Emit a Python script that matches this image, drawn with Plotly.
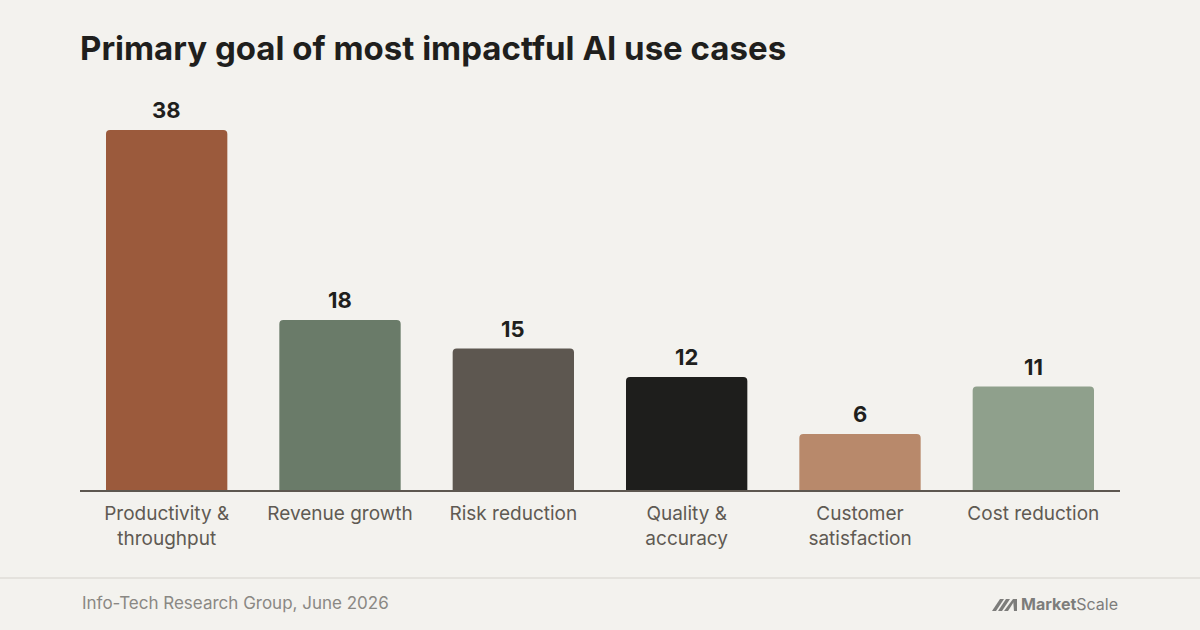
import plotly.graph_objects as go

categories = ["Productivity &<br>throughput", "Revenue growth", "Risk reduction",
              "Quality &<br>accuracy", "Customer<br>satisfaction", "Cost reduction"]
values = [38, 18, 15, 12, 6, 11]
colors = ["#9B5A3C", "#6A7B69", "#5D5750", "#1E1E1C", "#B8896B", "#8FA08C"]

W, H = 1200, 630
L, R, T, B = 80, 80, 90, 139
PW, PH = W - L - R, H - T - B

def px(x):
    return (x - L) / PW

def py(y):
    return (H - B - y) / PH

fig = go.Figure()
fig.add_trace(go.Bar(
    x=categories, y=values, marker=dict(color=colors, line=dict(width=0)),
    hoverinfo="skip", showlegend=False,
))

for c, v in zip(categories, values):
    fig.add_annotation(x=c, y=v, text=f"<b>{v}</b>", showarrow=False,
                       yanchor="bottom", yshift=5,
                       font=dict(family="Inter", size=22, color="#1F1F1D"))

shapes = [
    dict(type="line", xref="paper", yref="paper", x0=0, x1=1, y0=0, y1=0,
         line=dict(color="#5D5750", width=2), layer="above"),
    dict(type="line", xref="paper", yref="paper", x0=px(0), x1=px(W),
         y0=py(578), y1=py(578), line=dict(color="#E4E2DD", width=2)),
]

# logo icon: slanted strokes
def poly(pts):
    d = "M " + " L ".join(f"{px(a):.5f},{py(b):.5f}" for a, b in pts) + " Z"
    return dict(type="path", xref="paper", yref="paper", path=d,
                fillcolor="#7D7D7B", line=dict(width=0))

shapes.append(poly([(992, 611), (996, 611), (1004, 599), (1000, 599)]))
shapes.append(poly([(998, 611), (1002, 611), (1010, 599), (1006, 599)]))
shapes.append(poly([(1004, 611), (1008, 611), (1015, 600), (1013, 599)]))
shapes.append(poly([(1013, 599), (1017, 599), (1017, 611), (1014, 611)]))

fig.add_annotation(xref="paper", yref="paper", x=px(80), y=py(603),
                   xanchor="left", yanchor="middle", showarrow=False,
                   text="Info-Tech Research Group, June 2026",
                   font=dict(family="Inter", size=17, color="#8A8884"))
fig.add_annotation(xref="paper", yref="paper", x=px(1120), y=py(604),
                   xanchor="right", yanchor="middle", showarrow=False,
                   text="<b>Market</b>Scale",
                   font=dict(family="Inter", size=16, color="#7D7D7B"))

fig.update_layout(
    width=W, height=H,
    margin=dict(l=L, r=R, t=T, b=B, pad=0),
    paper_bgcolor="#F3F2EE", plot_bgcolor="#F3F2EE",
    title=dict(text="<b>Primary goal of most impactful AI use cases</b>",
               x=L / W, xanchor="left", y=1 - 48 / H, yanchor="middle",
               font=dict(family="Inter", size=33, color="#1F1F1D")),
    bargap=0.3,
    barcornerradius=4,
    shapes=shapes,
    xaxis=dict(showgrid=False, showline=False, zeroline=False, ticks="",
               tickfont=dict(family="Inter", size=19, color="#5F5A53"),
               ticklabelstandoff=9, fixedrange=True),
    yaxis=dict(range=[0, PH / 9.5], visible=False, showgrid=False,
               zeroline=False, fixedrange=True),
)

fig.write_html("out.html",
               config={"displayModeBar": False, "staticPlot": True},
               post_script="document.body.style.margin='0';"
                           "document.body.style.background='#F3F2EE';")
